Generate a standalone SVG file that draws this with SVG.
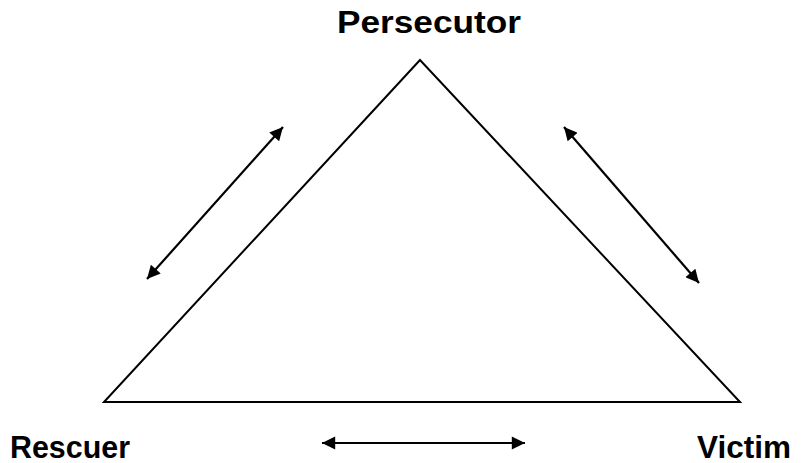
<svg xmlns="http://www.w3.org/2000/svg" width="801" height="463" viewBox="0 0 801 463">
<style>
.lbl{font-family:"Liberation Sans",Arial,sans-serif;font-weight:bold;font-size:32px;fill:#000}
.tri{fill:none;stroke:#000;stroke-width:2}
.arr{stroke:#000;stroke-width:2.2;marker-start:url(#ah);marker-end:url(#ah)}
</style>
<defs>
<marker id="ah" viewBox="0 0 10 10" refX="10" refY="5" markerWidth="7" markerHeight="6" markerUnits="strokeWidth" orient="auto-start-reverse">
<path d="M0,0 L10,5 L0,10 Z" fill="#000"/>
</marker>
</defs>
<rect width="801" height="463" fill="#fff"/>
<g id="triangle"><polygon class="tri" points="420,60 104,402 740,402"/></g>
<g id="persecutor"><text class="lbl" x="337" y="33" textLength="184" lengthAdjust="spacingAndGlyphs">Persecutor</text></g>
<g id="rescuer"><text class="lbl" x="10" y="458" textLength="120" lengthAdjust="spacingAndGlyphs">Rescuer</text></g>
<g id="victim"><text class="lbl" x="697" y="458" textLength="94" lengthAdjust="spacingAndGlyphs">Victim</text></g>
<g id="connectors">
<line class="arr" x1="147" y1="279" x2="283" y2="127"/>
<line class="arr" x1="564" y1="127" x2="699" y2="283"/>
<line class="arr" x1="322" y1="443" x2="525" y2="443"/>
</g>
</svg>
